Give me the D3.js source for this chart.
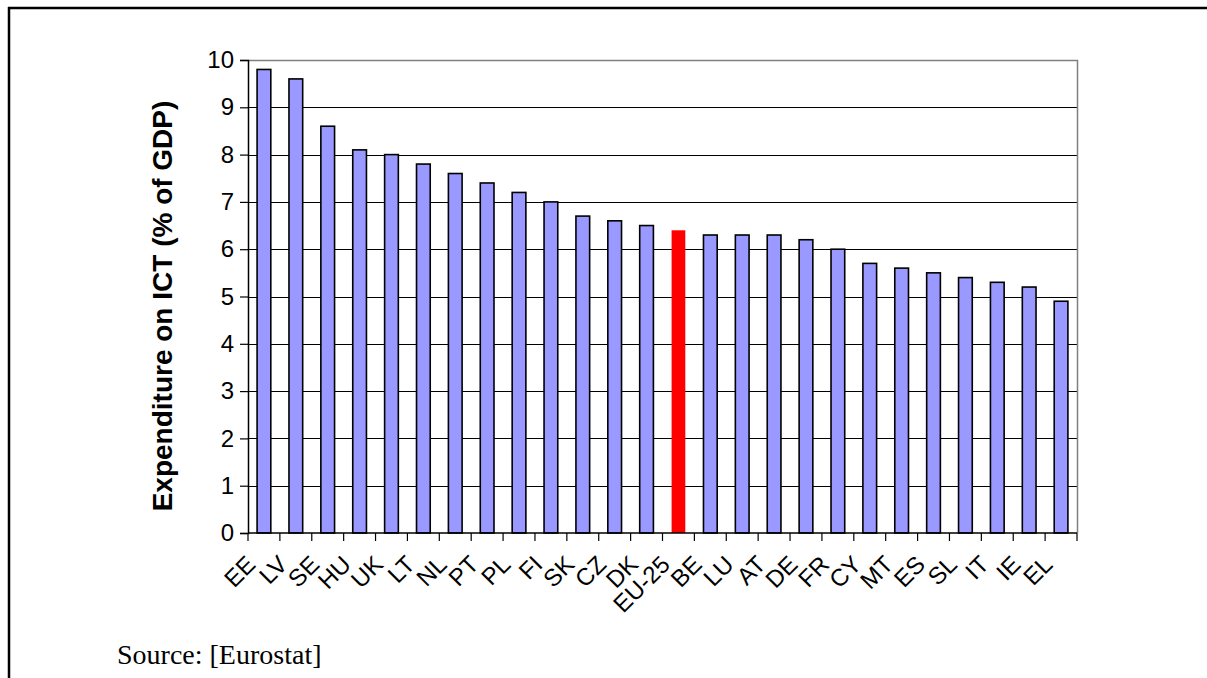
<!DOCTYPE html>
<html>
<head>
<meta charset="utf-8">
<script src="https://cdn.jsdelivr.net/npm/d3@7/dist/d3.min.js"></script>
<style>
  html, body { margin: 0; padding: 0; background: #fff; }
  svg { display: block; }
</style>
</head>
<body>
<svg id="chart" width="1207" height="678"></svg>
<script>
const categories = ["EE","LV","SE","HU","UK","LT","NL","PT","PL","FI","SK","CZ","DK","EU-25","BE","LU","AT","DE","FR","CY","MT","ES","SL","IT","IE","EL"];
const values = [9.8,9.6,8.6,8.1,8.0,7.8,7.6,7.4,7.2,7.0,6.7,6.6,6.5,6.4,6.3,6.3,6.3,6.2,6.0,5.7,5.6,5.5,5.4,5.3,5.2,4.9];
const highlight = "EU-25";
const yTicks = [0,1,2,3,4,5,6,7,8,9,10];
const yTitle = "Expenditure on ICT (% of GDP)";
const sourceText = "Source: [Eurostat]";

const data = categories.map((c, i) => ({ cat: c, value: values[i] }));

const svg = d3.select("#chart");
const pLeft = 248, pRight = 1077, pTop = 60, pBottom = 533;
const sans = "Arial, 'Liberation Sans', sans-serif";

const x = d3.scaleBand().domain(categories).range([pLeft, pRight]).paddingInner(0).paddingOuter(0);
const y = d3.scaleLinear().domain([0, 10]).range([pBottom, pTop]);

// outer frame
svg.append("line").attr("x1", 8).attr("x2", 1207).attr("y1", 8).attr("y2", 8)
  .attr("stroke", "#000").attr("stroke-width", 2.5);
svg.append("line").attr("x1", 9).attr("x2", 9).attr("y1", 7).attr("y2", 678)
  .attr("stroke", "#000").attr("stroke-width", 2.5);

// gridlines
svg.append("g").selectAll("line").data(yTicks.filter(t => t > 0 && t < 10)).join("line")
  .attr("x1", pLeft).attr("x2", pRight)
  .attr("y1", d => Math.round(y(d)) + 0.5).attr("y2", d => Math.round(y(d)) + 0.5)
  .attr("stroke", "#000").attr("stroke-width", 1);

// plot area border top/right (grey)
svg.append("path")
  .attr("d", `M${pLeft},${pTop + 0.5}H${pRight + 0.5}V${pBottom}`)
  .attr("fill", "none").attr("stroke", "#808080").attr("stroke-width", 1.5);

// bars
const barW = x.bandwidth() * 0.43;
svg.append("g").selectAll("rect").data(data).join("rect")
  .attr("x", d => x(d.cat) + (x.bandwidth() - barW) / 2)
  .attr("width", barW)
  .attr("y", d => y(d.value))
  .attr("height", d => y(0) - y(d.value))
  .attr("fill", d => d.cat === highlight ? "#FF0000" : "#9999FF")
  .attr("stroke", d => d.cat === highlight ? "none" : "#000")
  .attr("stroke-width", 1.6);

// y axis
const yAxis = d3.axisLeft(y).tickValues(yTicks).tickSize(8).tickPadding(6).tickFormat(d3.format("d"));
const gy = svg.append("g").attr("transform", `translate(${pLeft},0)`).call(yAxis);
gy.select(".domain").attr("stroke", "#000").attr("stroke-width", 1.5);
gy.selectAll(".tick line").attr("stroke", "#000").attr("stroke-width", 1.2);
gy.selectAll(".tick text").attr("font-family", sans)
  .attr("font-size", 24).attr("fill", "#000");

// x axis line and ticks at band boundaries
svg.append("line").attr("x1", pLeft).attr("x2", pRight).attr("y1", pBottom).attr("y2", pBottom)
  .attr("stroke", "#000").attr("stroke-width", 1.5);
const boundaries = categories.map(c => x(c)).concat([pRight]);
svg.append("g").selectAll("line").data(boundaries).join("line")
  .attr("x1", d => d).attr("x2", d => d).attr("y1", pBottom).attr("y2", pBottom + 8)
  .attr("stroke", "#000").attr("stroke-width", 1.2);

// x labels
svg.append("g").selectAll("text").data(categories).join("text")
  .attr("transform", d => `translate(${x(d) + x.bandwidth() / 2 - 7},${pBottom + 33}) rotate(-45)`)
  .attr("text-anchor", "end")
  .attr("font-family", sans)
  .attr("font-size", 24).attr("fill", "#000")
  .text(d => d);

// y title
svg.append("text")
  .attr("transform", `translate(172,306) rotate(-90)`)
  .attr("text-anchor", "middle")
  .attr("font-family", sans)
  .attr("font-weight", "bold").attr("font-size", 28).attr("fill", "#000")
  .text(yTitle);

// source
svg.append("text")
  .attr("x", 117).attr("y", 664)
  .attr("font-family", "'Times New Roman', 'Liberation Serif', serif")
  .attr("font-size", 28).attr("fill", "#000")
  .text(sourceText);
</script>
</body>
</html>
